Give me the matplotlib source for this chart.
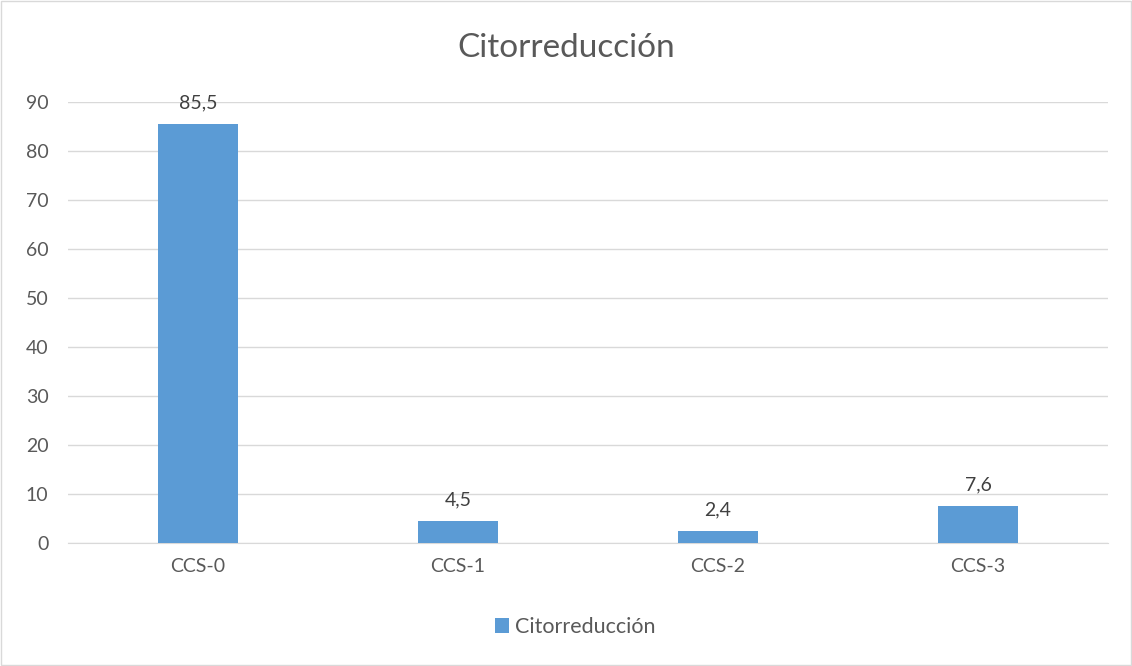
import matplotlib
matplotlib.use('Agg')
import matplotlib.pyplot as plt
from matplotlib.patches import Rectangle
import numpy as np

plt.rcParams['font.family'] = ['Lato', 'DejaVu Sans']

# datos
categorias = ['CCS-0', 'CCS-1', 'CCS-2', 'CCS-3']
valores = [85.5, 4.5, 2.4, 7.6]
serie = 'Citorreducción'

gris_texto = '#595959'
azul = '#5B9BD5'

fig = plt.figure(figsize=(11.32, 6.66), dpi=100)
ax = fig.add_axes([68 / 1132, 1 - 543 / 666, 1040 / 1132, 441 / 666])

x = np.arange(len(categorias))
barras = ax.bar(x, valores, width=0.31, color=azul, label=serie, zorder=3)

ax.set_xlim(-0.5, len(categorias) - 0.5)
ax.set_ylim(0, 90)
ax.set_yticks(np.arange(0, 91, 10))
ax.set_xticks(x)
ax.set_xticklabels(categorias)
ax.tick_params(axis='both', length=0, labelsize=14, colors=gris_texto)
ax.tick_params(axis='x', pad=11)
ax.tick_params(axis='y', pad=14)

ax.grid(axis='y', color='#D9D9D9', linewidth=1, zorder=0)
for lado in ['top', 'right', 'left']:
    ax.spines[lado].set_visible(False)
ax.spines['bottom'].set_color('#D9D9D9')

# etiquetas de valor
for b, v in zip(barras, valores):
    ax.annotate(f'{v:.1f}'.replace('.', ','), (b.get_x() + b.get_width() / 2, v),
                xytext=(0, 9), textcoords='offset points', ha='center', va='bottom',
                fontsize=14, color='#404040')

fig.text(0.5, 1 - 48 / 666, serie, ha='center', va='center', fontsize=24, color=gris_texto)

leg = fig.legend(handles=[barras], labels=[serie], loc='center',
                 bbox_to_anchor=(575 / 1132, 1 - 627 / 666), frameon=False,
                 fontsize=15.5, handlelength=0.65, handleheight=0.65, handletextpad=0.3)
for t in leg.get_texts():
    t.set_color(gris_texto)

fig.patches.append(Rectangle((0.001, 0.0015), 0.998, 0.997, transform=fig.transFigure,
                             fill=False, edgecolor='#D9D9D9', linewidth=1))

fig.savefig('out.png', dpi=100)
plt.close(fig)
